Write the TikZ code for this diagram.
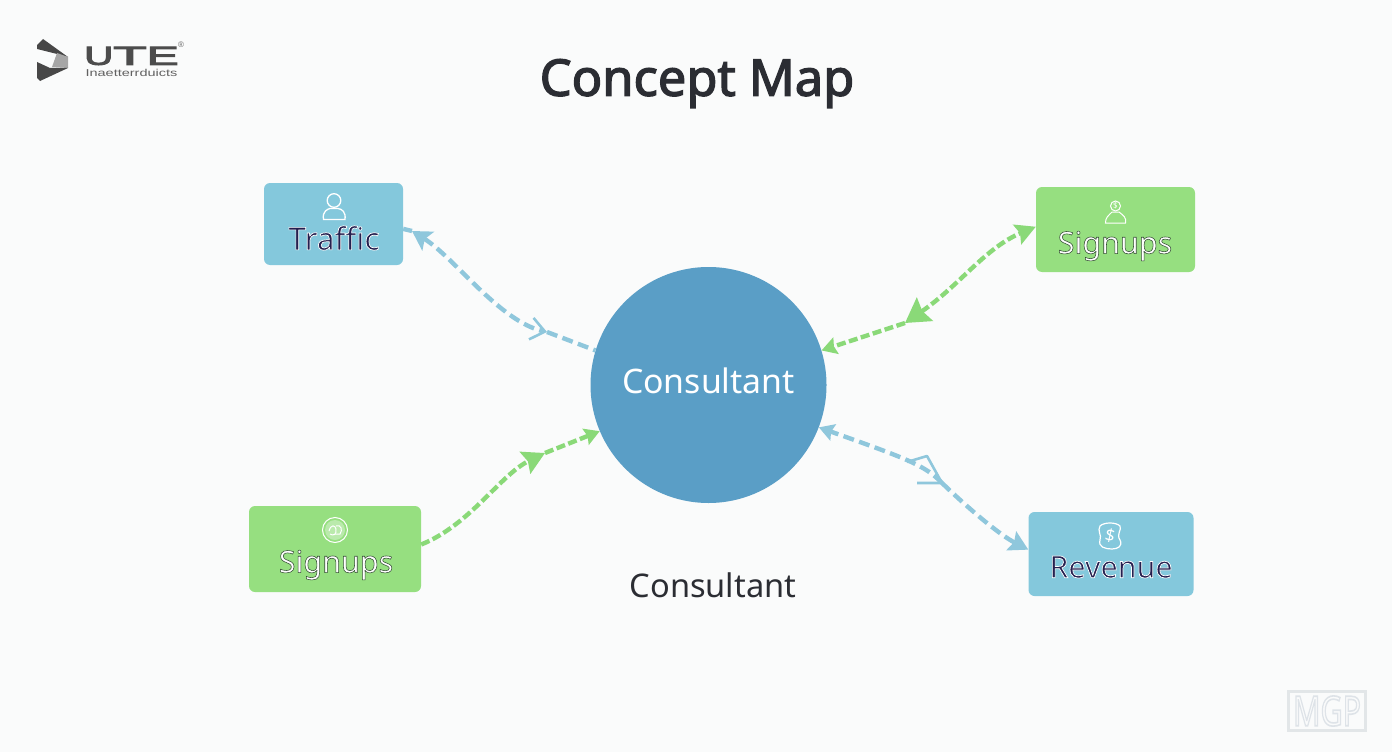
\documentclass[tikz,border=0pt]{standalone}
\usepackage{fontspec}
\setmainfont{Noto Sans}
\newfontfamily\logofont{Liberation Sans}
\usetikzlibrary{arrows.meta,calc}
\definecolor{bgc}{HTML}{FAFBFB}
\definecolor{circ}{HTML}{5A9EC6}
\definecolor{bluebox}{HTML}{84C8DC}
\definecolor{greenbox}{HTML}{96DF80}
\definecolor{bluearrow}{HTML}{8FC7DC}
\definecolor{greenarrow}{HTML}{8AD978}
\definecolor{darktext}{HTML}{2B2D33}
\definecolor{navy}{HTML}{25204F}
\definecolor{wm}{HTML}{E2E6E8}
\newcommand{\outlined}[3]{\special{pdf:code q 2 Tr #2 w #1 RG}#3\special{pdf:code Q}}
\tikzset{
  x=1pt,y=-1pt,
  box/.style={rounded corners=6pt,minimum width=#1,inner sep=0pt},
  conc/.style={circle,fill=circ,minimum size=236pt,inner sep=0pt},
  lab/.style={inner sep=0pt,font=\fontsize{30.5}{34}\selectfont},
  icon/.style={draw=white,line width=1.3pt,fill=none},
  bluelink/.style={draw=bluearrow,line width=4.4pt,dash pattern=on 11pt off 5.5pt},
  greenlink/.style={draw=greenarrow,line width=4.4pt,dash pattern=on 9pt off 3.5pt},
}
\begin{document}
\begin{tikzpicture}
\useasboundingbox (0,0) rectangle (1392,752);
\fill[bgc] (0,0) rectangle (1392,752);

% logo
\fill[black!72] (37,45) -- (43,39) -- (68,57) -- (57,54) -- (37,49) -- cycle;
\fill[black!35] (57,53) -- (68,57) -- (68,68) -- (52,67) -- cycle;
\fill[black!72] (37,62) -- (50,68) -- (68,68) -- (40,81) -- (37,78) -- cycle;
\node[inner sep=0pt,text=black!70,anchor=west] (logoname) at (84,56)
  {\logofont\fontsize{26}{26}\selectfont\outlined{0.3 0.3 0.3}{0.9}{\scalebox{1.55}[1]{U}\scalebox{2.1}[1]{T}\scalebox{1.85}[1]{E}}};
\node[inner sep=0pt,text=black!60] (logomark) at (181,45) {\logofont\fontsize{8}{8}\selectfont ®};
\node[inner sep=0pt,text=black!62] (logosub) at (131.5,72.5) {\logofont\fontsize{10}{10}\selectfont\scalebox{1.45}[1]{Inaetterrduicts}};

% title
\node[inner sep=0pt,text=darktext,font=\fontsize{50.6}{52}\selectfont] (title) at (697,83.5) {\outlined{0.169 0.176 0.2}{1.3}{Concept Map}};

% nodes
\node[conc] (consultant) at (708.5,385) {};
\node[inner sep=0pt,text=white,font=\fontsize{33.8}{36}\selectfont] (conclabel) at (708.5,381) {Consultant};
\node[inner sep=0pt,text=darktext,font=\fontsize{32.6}{36}\selectfont] (caption) at (713,585) {Consultant};

\node[box=139pt,minimum height=82pt,fill=bluebox] (traffic) at (333.5,224) {};
\node[box=159pt,minimum height=85pt,fill=greenbox] (signupsr) at (1115.5,229.5) {};
\node[box=172pt,minimum height=86pt,fill=greenbox] (signupsl) at (335,549) {};
\node[box=165pt,minimum height=84pt,fill=bluebox] (revenue) at (1111,554) {};

\node[lab,text=navy,font=\fontsize{31.5}{34}\selectfont] (l1) at (334,238) {\outlined{1 1 1}{0.7}{Traffic}};
\node[lab,text=white] (l2) at (1115,246) {\outlined{0.2 0.3 0.2}{0.55}{Signups}};
\node[lab,text=white] (l3) at (336,565) {\outlined{0.2 0.3 0.2}{0.55}{Signups}};
\node[lab,text=navy] (l4) at (1111,567) {\outlined{1 1 1}{0.7}{Revenue}};

% icons
\draw[icon] (334,200.5) circle (6.8pt);
\draw[icon] (323.5,219.5) .. controls (322,211) and (328,209) .. (330,208.5) -- (338,208.5) .. controls (342,209) and (346,212) .. (345,219.5) -- cycle;

\draw[icon,line width=1pt] (1115.5,206) circle (5pt);
\draw[icon,line width=1pt] (1105.5,223) .. controls (1105,218) and (1109,215) .. (1112,212) -- (1119,212) .. controls (1123,215) and (1127,218) .. (1125.5,223) -- cycle;
\node[inner sep=0pt,text=white,font=\fontsize{8}{8}\selectfont] (i2) at (1115.5,206) {\$};

\draw[icon,line width=1pt] (335,530) circle (12.5pt);
\fill[white,opacity=.35] (335,530) circle (10pt);
\draw[white,line width=1pt] (329,531) .. controls (331,524) and (335,525) .. (336,529) .. controls (337,535) and (333,536) .. (330,534);
\draw[white,line width=1pt] (336,526) .. controls (341,524) and (343,530) .. (340,534) -- (335,534);

\draw[icon,line width=1.2pt] (1100,526) .. controls (1104,522) and (1116,522) .. (1120,526) .. controls (1122,530) and (1116,534) .. (1120,540) .. controls (1123,546) and (1118,549) .. (1112,549) .. controls (1105,549) and (1098,547) .. (1100,540) .. controls (1102,535) and (1097,531) .. (1100,526) -- cycle;
\node[inner sep=0pt,text=white,font=\bfseries\fontsize{17}{17}\selectfont,rotate=-12] (i4) at (1110,536) {\$};

% connectors
\coordinate (m0) at (412,231);
\coordinate (m1) at (547,332);
\coordinate (m2) at (905,323);
\coordinate (m3) at (545,453);
\coordinate (m4) at (942,483);

\draw[bluelink] (traffic.-4) -- (m0);
\draw[bluelink,{Stealth[length=19pt,width=22pt,inset=4pt]}-{Straight Barb[length=14pt,width=22pt,line width=2.6pt]}]
  (m0) .. controls (455,258) and (500,322) .. (m1);
\draw[bluelink] (m1) -- (consultant.163);

\draw[greenlink,{Stealth[length=24pt,width=28pt,inset=3pt]}-{Stealth[length=20pt,width=21pt,inset=3pt]}]
  (m2) .. controls (960,285) and (985,248) .. (signupsr.178);
\draw[greenlink,-{Stealth[length=15pt,width=17pt,inset=2pt]}] (m2) -- (consultant.17);

\draw[greenlink,-{Stealth[length=22pt,width=24pt,inset=3pt]}]
  (signupsl.3) .. controls (470,525) and (500,475) .. (m3);
\draw[greenlink,-{Stealth[length=15pt,width=17pt,inset=2pt]}] (m3) -- (consultant.203);

\draw[bluelink,-{Stealth[length=15pt,width=17pt,inset=2pt]}] (m4) .. controls (925,465) and (905,458) .. (consultant.-21);
\draw[bluelink,-{Stealth[length=19pt,width=21pt,inset=3pt]}] (m4) .. controls (970,510) and (1000,535) .. (revenue.177);
\coordinate (t1) at (907,462);
\coordinate (t2) at (927,456);
\coordinate (t3) at (917,483);
\draw[bluearrow,line width=2.6pt,line join=round] (t1) -- (t2) -- (m4) -- (t3);

% watermark
\node[draw=wm,line width=2.4pt,fill=bgc,minimum width=77pt,minimum height=39pt,inner sep=0pt,text=bgc,font=\fontsize{33}{33}\selectfont] (mark) at (1327,711) {\raisebox{-1.5pt}{\scalebox{0.92}[1.25]{\outlined{0.87 0.89 0.91}{1.3}{MGP}}}};
\end{tikzpicture}
\end{document}
